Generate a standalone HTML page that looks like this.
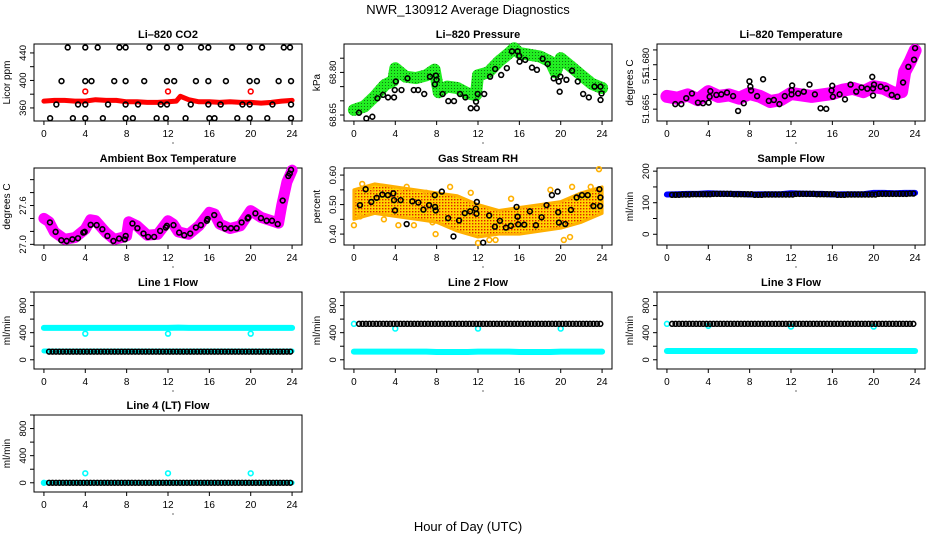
<!DOCTYPE html>
<html><head><meta charset="utf-8">
<style>
html,body{margin:0;padding:0;background:#fff;}
svg{display:block;font-family:"Liberation Sans",sans-serif;}
</style></head>
<body>
<svg id="chart" width="936" height="540" viewBox="0 0 936 540" xmlns="http://www.w3.org/2000/svg">
<defs>
<pattern id="rhpat" width="3" height="3" patternUnits="userSpaceOnUse">
<rect width="3" height="3" fill="#ffd400"/><rect x="1" y="1" width="1.4" height="1.4" fill="#e02000"/>
</pattern>
<pattern id="grpat" width="3" height="3" patternUnits="userSpaceOnUse">
<rect width="3" height="3" fill="#22ee22"/><rect x="1" y="1" width="1" height="1" fill="#117711"/>
</pattern>
</defs>
<text x="468" y="14" text-anchor="middle" font-size="13">NWR_130912  Average Diagnostics</text>
<text x="468" y="531" text-anchor="middle" font-size="13">Hour of Day (UTC)</text>
<g id="panels"></g>
</svg>
<script>
// ---------- data ----------
const xTicks = [0,4,8,12,16,20,24];
// CO2
const co2RedT = [0,1,2,3,4,5,6,7,8,9,10,11,12,12.8,13.2,14,15,16,17,18,19,20,21,22,23,24];
const co2RedV = [370,371,371,370,370,372,371,371,369,369,368,368,369,370,377,372,369,369,368,369,368,368,367,368,370,371];
const co2RedDotT = [4,12,20];
const co2RedDotV = [384,384,384];
const co2BlkT = [2.3,4.0,5.2,7.3,7.9,10.2,11.9,13.2,15.2,15.9,18.2,19.9,21.1,23.2,23.8,
 1.7,4.0,4.6,6.8,7.9,9.7,11.9,12.6,14.7,15.9,17.6,19.9,20.6,22.7,23.9,
 1.2,3.3,4.0,6.2,7.9,9.1,11.3,11.9,14.2,15.9,17.1,19.2,19.9,22.1,23.9,
 0.6,2.8,4.0,5.7,7.9,8.6,10.9,11.8,13.7,16.0,16.5,18.7,19.9,21.6,23.9];
const co2BlkV = [448,448,448,448,448,448,448,448,448,448,448,448,448,448,448,
 399,399,399,399,399,399,399,399,399,399,399,399,399,399,399,
 365,365,365,365,365,365,365,365,365,365,365,365,365,365,365,
 345,345,345,345,345,345,345,345,345,345,345,345,345,345,345];
// Pressure
const presT = [0,1,2,3,3.8,4,5,6,7,7.8,8.2,9,10,11,11.8,12,13,14,15,15.5,16,17,18,19,19.5,20,21,22,23,24];
const presV = [68.668,68.68,68.715,68.756,68.77,68.815,68.785,68.78,68.79,68.81,68.73,68.75,68.745,68.726,68.72,68.79,68.80,68.838,68.868,68.885,68.868,68.862,68.856,68.838,68.80,68.85,68.82,68.79,68.76,68.745];
const presBlkT = [0.49,1.2,1.78,2.27,2.82,3.3,3.88,3.95,4.05,4.6,5.18,5.79,6.21,6.8,7.35,7.83,7.93,7.99,8.58,9.13,9.68,10.26,10.78,11.3,11.88,11.81,11.97,12.6,13.17,13.66,14.24,14.79,15.28,15.83,15.99,16.02,16.57,17.22,17.7,18.25,18.74,19.32,19.81,19.9,19.97,20.55,21.1,21.65,22.17,22.72,23.27,23.85,23.95,23.85];
const presBlkV = [68.658,68.638,68.644,68.709,68.721,68.712,68.712,68.738,68.768,68.738,68.779,68.738,68.738,68.724,68.785,68.758,68.789,68.774,68.724,68.699,68.699,68.724,68.712,68.674,68.674,68.697,68.724,68.724,68.785,68.812,68.791,68.815,68.874,68.874,68.858,68.838,68.844,68.817,68.809,68.848,68.830,68.779,68.768,68.732,68.785,68.774,68.806,68.768,68.724,68.712,68.75,68.75,68.726,68.703];
// Li-820 temperature
const tempT = [0,1,2,3,4,5,6,7,8,9,10,11,12,13,14,15,16,17,18,19,20,21,22,22.7,23,23.5,24];
const tempV = [51.6693,51.6687,51.6698,51.6682,51.6709,51.6693,51.6698,51.6687,51.6703,51.6693,51.6676,51.6682,51.6703,51.6698,51.6693,51.6698,51.6703,51.6714,51.6720,51.6709,51.6726,51.6720,51.6703,51.6709,51.6776,51.6809,51.6848];
const tempBlkT = [0.81,1.39,1.87,2.42,3.0,3.49,4.04,4.13,4.2,4.78,5.26,5.81,6.4,6.88,7.43,7.98,8.07,8.14,8.72,9.3,9.85,10.34,10.88,11.4,12.05,12.05,12.11,12.69,13.24,13.79,14.31,14.86,15.41,15.92,15.99,16.05,16.7,17.22,17.76,18.31,18.83,19.38,19.86,19.93,19.93,20.03,20.67,21.22,21.74,22.29,22.84,23.35,23.9,24.0];
const tempBlkV = [51.6667,51.6667,51.6687,51.6703,51.6672,51.6670,51.6672,51.6692,51.6711,51.6698,51.6700,51.6706,51.6694,51.6644,51.6670,51.6744,51.6726,51.6713,51.6694,51.6751,51.6678,51.6681,51.6667,51.6694,51.6714,51.6700,51.6730,51.6703,51.6709,51.6733,51.6700,51.6653,51.6651,51.6713,51.6729,51.6692,51.6700,51.6683,51.6733,51.6709,51.6723,51.6719,51.6759,51.6696,51.6720,51.6733,51.6726,51.6720,51.6698,51.6692,51.6740,51.6793,51.6817,51.6856];
// Ambient box temperature
const ambT = [0,0.5,1,2,3,4,4.5,5,6,6.8,7.5,8,8.2,9,10,11,12,12.5,13,14,15,16,16.5,17,18,19,20,21,22,22.7,23,23.5,24];
const ambV = [27.401,27.349,27.193,27.078,27.104,27.234,27.380,27.365,27.182,27.078,27.104,27.130,27.349,27.286,27.141,27.156,27.365,27.313,27.193,27.156,27.286,27.495,27.469,27.313,27.245,27.286,27.521,27.417,27.365,27.328,27.599,27.964,28.146];
const ambBlkT = [0.58,1.13,1.68,2.2,2.75,3.29,3.81,3.94,4.52,5.1,5.65,6.14,6.72,7.27,7.82,7.91,8.56,9.04,9.63,10.08,10.66,11.24,11.79,11.89,12.53,13.08,13.57,14.15,14.7,15.18,15.76,15.83,16.47,17.02,17.51,18.09,18.64,19.12,19.7,19.77,20.45,20.99,21.54,22.06,22.61,23.09,23.64,23.77,23.9];
const ambBlkV = [27.339,27.193,27.063,27.052,27.078,27.094,27.182,27.193,27.302,27.297,27.234,27.13,27.052,27.089,27.078,27.13,27.323,27.25,27.167,27.115,27.115,27.208,27.26,27.286,27.297,27.182,27.141,27.167,27.26,27.297,27.365,27.391,27.453,27.307,27.245,27.25,27.25,27.339,27.401,27.417,27.479,27.406,27.365,27.365,27.313,27.677,28.057,28.094,28.151];
// Gas stream RH
const rhT = [0,2,4,6,8,10,12,14,16,18,20,22,24];
const rhUpper = [0.55,0.57,0.56,0.55,0.54,0.53,0.50,0.48,0.49,0.50,0.51,0.54,0.56];
const rhLower = [0.45,0.47,0.46,0.45,0.44,0.41,0.39,0.40,0.40,0.41,0.42,0.44,0.47];
const rhOutT = [0.0,0.6,0.8,1.6,2.9,4.3,4.7,5.1,5.8,7.0,7.6,7.9,9.3,11.3,12.0,13.1,13.7,15.2,19.0,20.3,20.9,21.1,22.9,23.7,0.2];
const rhOutV = [0.43,0.46,0.57,0.55,0.45,0.43,0.55,0.56,0.43,0.54,0.44,0.40,0.56,0.54,0.37,0.38,0.38,0.52,0.55,0.38,0.39,0.56,0.56,0.62,0.51];
const rhBlkT = [0.58,1.13,1.68,2.2,2.75,3.29,3.81,3.88,3.97,4.52,5.1,5.65,6.23,6.72,7.27,7.82,7.85,7.91,8.5,9.11,9.63,10.17,10.72,11.24,11.79,11.85,11.89,12.5,13.08,13.63,14.12,14.7,15.18,15.73,15.83,15.89,16.47,17.02,17.6,18.15,18.63,19.15,19.7,19.76,19.83,20.44,20.99,21.54,22.06,22.61,23.16,23.74,23.84,23.81];
const rhBlkV = [0.498,0.552,0.509,0.523,0.534,0.532,0.538,0.515,0.480,0.515,0.434,0.511,0.507,0.483,0.498,0.532,0.492,0.480,0.544,0.454,0.392,0.446,0.471,0.477,0.486,0.469,0.509,0.371,0.463,0.425,0.445,0.422,0.428,0.492,0.459,0.433,0.432,0.477,0.430,0.457,0.498,0.532,0.544,0.474,0.439,0.434,0.482,0.524,0.532,0.532,0.495,0.552,0.524,0.495];
// Flows: hourly values (hours 0..23); black circles plotted every 1/3 hr using the hour's value
const flowHours = [0,1,2,3,4,5,6,7,8,9,10,11,12,13,14,15,16,17,18,19,20,21,22,23];
const sampleBlue = [126,127,128,128,130,129,128,128,126,127,127,127,130,129,128,128,126,127,127,127,131,131,130,131];
const sampleBlack = [125,126,127,127,128,128,127,127,125,126,126,126,128,128,127,127,125,126,126,126,128,128,128,129];
const line1Cyan = [470,470,470,470,470,470,470,470,470,470,470,470,470,475,470,470,470,470,470,470,470,470,470,470];
const line1CyanLow = [130,130,130,130,130,130,130,130,130,130,130,130,130,130,130,130,130,130,130,130,130,130,130,130];
const line1Black = [120,120,120,120,120,120,120,120,120,120,120,120,120,120,120,120,120,120,120,120,120,120,120,120];
const line1DipT = [4,12,20]; const line1DipV = [385,385,385];
const line2Black = [530,530,530,530,530,530,530,530,530,530,530,530,530,530,530,530,530,530,530,530,530,530,530,530];
const line2Cyan = [120,120,120,120,120,120,120,120,115,115,115,115,120,120,120,120,115,115,115,115,120,120,120,120];
const line2DipT = [0,4,12,20]; const line2DipV = [530,460,460,460];
const line3Black = [530,530,530,530,530,530,530,530,530,530,530,530,530,530,530,530,530,530,530,530,530,530,530,530];
const line3Cyan = [130,130,130,130,130,130,130,130,130,130,130,130,130,130,130,130,130,130,130,130,130,130,130,130];
const line3DipT = [0,4,12,20]; const line3DipV = [530,500,490,490];
const line4Black = [0,0,0,0,0,0,0,0,0,0,0,0,0,0,0,0,0,0,0,0,0,0,0,0];
const line4Cyan = [0,0,0,0,0,0,0,0,0,0,0,0,0,0,0,0,0,0,0,0,0,0,0,0];
const line4DipT = [0,4,12,20]; const line4DipV = [0,140,140,140];

// ---------- drawing ----------
const NS = "http://www.w3.org/2000/svg";
const root = document.getElementById('panels');
const colLeft = [34,344,657], rowTop = [44,168,292,415], PW = 268, PH = 77;
function mk(tag, attrs, parent){ const e = document.createElementNS(NS, tag); for (const k in attrs) e.setAttribute(k, attrs[k]); (parent||root).appendChild(e); return e; }

function panel(c, r, yMin, yMax, ticks, labels, title, ylab, name){
  const L = colLeft[c], T = rowTop[r];
  const g = mk('g', {});
  
  
  const sx = h => L + (h + 0.96) / 25.92 * PW;
  const sy = v => T + (yMax - v) / (yMax - yMin) * PH;
  const t = mk('text', {x: L + PW/2, y: T - 6, 'text-anchor':'middle', 'font-size':'11', 'font-weight':'bold'}, g);
  t.textContent = title;
  
  
  const box = mk('rect', {x:L, y:T, width:PW, height:PH, fill:'none', stroke:'#000', 'stroke-width':1}, g);
  
  
  const xa = mk('g', {}, g);
  
  
  mk('line', {x1:sx(0), x2:sx(24), y1:T+PH, y2:T+PH, stroke:'#000'}, xa);
  xTicks.forEach(h => {
    mk('line', {x1:sx(h), x2:sx(h), y1:T+PH, y2:T+PH+4, stroke:'#000'}, xa);
    const tl = mk('text', {x:sx(h), y:T+PH+16, 'text-anchor':'middle', 'font-size':'10'}, xa);
    tl.textContent = h;
    
    
  });
  mk('circle', {cx:sx(12)+5, cy:T+PH+22, r:0.6, fill:'#000'}, xa);
  const ya = mk('g', {}, g);
  
  
  mk('line', {x1:L, x2:L, y1:sy(ticks[0]), y2:sy(ticks[ticks.length-1]), stroke:'#000'}, ya);
  ticks.forEach(v => mk('line', {x1:L-4, x2:L, y1:sy(v), y2:sy(v), stroke:'#000'}, ya));
  labels.forEach(([v, s]) => {
    const x = L - 8, y = sy(v);
    const tl = mk('text', {x:x, y:y, 'text-anchor':'middle', 'font-size':'9.5', transform:`rotate(-90 ${x} ${y})`}, ya);
    tl.textContent = s;
    
    
  });
  const yx = L - 24, yy = T + PH/2;
  const yt = mk('text', {x:yx, y:yy, 'text-anchor':'middle', 'font-size':'10', transform:`rotate(-90 ${yx} ${yy})`}, g);
  yt.textContent = ylab;
  
  
  const clip = mk('g', {}, g);
  
  
  return {sx, sy, g: clip};
}
function band(p, T, V, color, w, name){
  const d = T.map((t,i) => (i ? 'L' : 'M') + p.sx(t).toFixed(1) + ' ' + p.sy(V[i]).toFixed(1)).join(' ');
  const e = mk('path', {d:d, fill:'none', stroke:color, 'stroke-width':w, 'stroke-linejoin':'round', 'stroke-linecap':'round'}, p.g);
  
  
}
function pts(p, T, V, color, name, r, sw){
  T.forEach((t,i) => {
    const e = mk('circle', {cx:p.sx(t), cy:p.sy(V[i]), r:r||2.4, fill:'none', stroke:color, 'stroke-width':sw||1.6}, p.g);
    
    
  });
}
function hourlyPts(p, vals, color, name, start){
  flowHours.forEach((h,i) => {
    for (let k = 0; k < 3; k++) {
      const t = h + k/3 + (start||0);
      if (t > 24) continue;
      const e = mk('circle', {cx:p.sx(t), cy:p.sy(vals[i]), r:2.4, fill:'none', stroke:color, 'stroke-width':1.6}, p.g);
      
      
    }
  });
}
function hourlyBand(p, vals, color, w, name){
  const T = flowHours.concat([24]);
  const V = vals.concat([vals[vals.length-1]]);
  band(p, T, V, color, w, name);
}

let p = panel(0,0,341,453,[360,380,400,420,440],[[360,'360'],[400,'400'],[440,'440']],'Li\u2013820 CO2','Licor ppm','co2');
band(p, co2RedT, co2RedV, '#ff0000', 5, 'co2-red-series');
pts(p, co2RedDotT, co2RedDotV, '#ff0000', 'co2-red-point');
pts(p, co2BlkT, co2BlkV, '#000', 'co2-black-point');

p = panel(1,0,68.629,68.90,[68.65,68.70,68.75,68.80,68.85],[[68.65,'68.65'],[68.80,'68.80']],'Li\u2013820 Pressure','kPa','pressure');
band(p, presT, presV, 'url(#grpat)', 12, 'pressure-green-series');
pts(p, presBlkT, presBlkV, '#000', 'pressure-black-point');

p = panel(2,0,51.661,51.687,[51.665,51.670,51.675,51.680,51.685],[[51.665,'51.665'],[51.6757,'51.'],[51.6808,'51.680']],'Li\u2013820 Temperature','degrees C','li820-temp');
band(p, tempT, tempV, '#ff00ff', 13, 'li820-temp-magenta-series');
pts(p, tempBlkT, tempBlkV, '#000', 'li820-temp-black-point');

p = panel(0,1,26.99,28.18,[27.0,27.2,27.4,27.6,27.8,28.0],[[27.0,'27.0'],[27.6,'27.6']],'Ambient Box Temperature','degrees C','ambient');
band(p, ambT, ambV, '#ff00ff', 11, 'ambient-magenta-series');
pts(p, ambBlkT, ambBlkV, '#000', 'ambient-black-point');

p = panel(1,1,0.363,0.624,[0.40,0.45,0.50,0.55,0.60],[[0.40,'0.40'],[0.50,'0.50'],[0.60,'0.60']],'Gas Stream RH','percent','rh');
{
  const d = rhT.map((t,i)=>(i?'L':'M')+p.sx(t).toFixed(1)+' '+p.sy(rhUpper[i]).toFixed(1)).join(' ') + ' ' +
    rhT.slice().reverse().map((t,j)=>{const i = rhT.length-1-j; return 'L'+p.sx(t).toFixed(1)+' '+p.sy(rhLower[i]).toFixed(1);}).join(' ') + ' Z';
  const e = mk('path', {d:d, fill:'url(#rhpat)', stroke:'#ffb000', 'stroke-width':3, 'stroke-linejoin':'round'}, p.g);
  
  
}
pts(p, rhOutT, rhOutV, '#ffb000', 'rh-orange-point');
pts(p, rhBlkT, rhBlkV, '#000', 'rh-black-point');

p = panel(2,1,-34,210,[0,50,100,150,200],[[0,'0'],[100,'100'],[200,'200']],'Sample Flow','ml/min','sample-flow');
hourlyBand(p, sampleBlue, '#0000ff', 6, 'sample-flow-blue-series');
hourlyPts(p, sampleBlack, '#000', 'sample-flow-black-point', 0.5);

const fT = [0,200,400,600,800,1000], fL = [[0,'0'],[400,'400'],[800,'800']];
p = panel(0,2,-136,1000,fT,fL,'Line 1 Flow','ml/min','line1-flow');
hourlyBand(p, line1Cyan, '#00ffff', 6, 'line1-cyan-high');
hourlyBand(p, line1CyanLow, '#00ffff', 5, 'line1-cyan-low');
pts(p, line1DipT, line1DipV, '#00ffff', 'line1-cyan-point');
hourlyPts(p, line1Black, '#000', 'line1-black-point', 0.5);
p = panel(1,2,-136,1000,fT,fL,'Line 2 Flow','ml/min','line2-flow');
hourlyBand(p, line2Cyan, '#00ffff', 6, 'line2-cyan-series');
pts(p, line2DipT, line2DipV, '#00ffff', 'line2-cyan-point');
hourlyPts(p, line2Black, '#000', 'line2-black-point', 0.5);
p = panel(2,2,-136,1000,fT,fL,'Line 3 Flow','ml/min','line3-flow');
hourlyBand(p, line3Cyan, '#00ffff', 6, 'line3-cyan-series');
pts(p, line3DipT, line3DipV, '#00ffff', 'line3-cyan-point');
hourlyPts(p, line3Black, '#000', 'line3-black-point', 0.5);
p = panel(0,3,-136,1000,fT,fL,'Line 4 (LT) Flow','ml/min','line4-flow');
hourlyBand(p, line4Cyan, '#00ffff', 5, 'line4-cyan-series');
pts(p, line4DipT, line4DipV, '#00ffff', 'line4-cyan-point');
hourlyPts(p, line4Black, '#000', 'line4-black-point', 0.5);
</script>
</body></html>
